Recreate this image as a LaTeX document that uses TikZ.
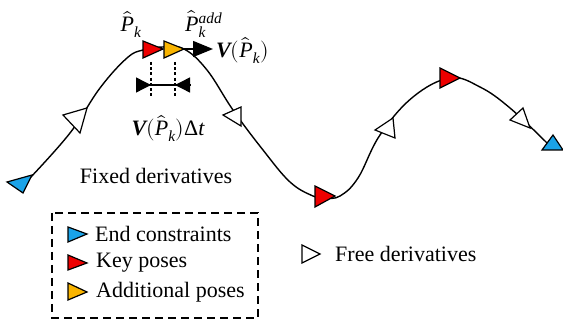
\documentclass[tikz,border=0pt]{standalone}
\usepackage{fontspec}
\setmainfont{Liberation Serif}
\usepackage{unicode-math}
\setmathfont{Latin Modern Math}
\setmathfont[range=it]{Liberation Serif Italic}
\setmathfont[range=bfit]{Liberation Serif Bold Italic}
\setmathfont[range=up]{Liberation Serif}
\usetikzlibrary{positioning,arrows.meta,calc}
\definecolor{trajblue}{HTML}{1AA3E8}
\definecolor{trajred}{HTML}{EE0000}
\definecolor{trajyellow}{HTML}{F9B400}
\tikzset{
  posetri/.style ={draw=black, line width=1.2pt, line join=miter},
  endpose/.style ={posetri, fill=trajblue},
  keypose/.style ={posetri, fill=trajred},
  addpose/.style ={posetri, fill=trajyellow},
  freepose/.style={posetri, fill=white},
  traj/.style    ={line width=1.4pt},
  lbl/.style     ={font=\fontsize{22}{25}\selectfont, inner sep=0pt},
  legtxt/.style  ={lbl, anchor=west},
  guide/.style   ={dash pattern=on 3pt off 2.2pt, line width=1.3pt},
  dimtip/.style  ={-{Triangle[length=15pt,width=15pt]}, line width=1.4pt},
  legbox/.style  ={dash pattern=on 8pt off 5pt, line width=1.2pt},
}
\newcommand{\pose}[4]{\draw[#1] (#2) -- (#3) -- (#4) -- cycle;}

\begin{document}
\begin{tikzpicture}[x=1pt,y=-1pt]
  \useasboundingbox (0,0) rectangle (563,323);

  % trajectory
  \draw[traj] plot[smooth, tension=0.65] coordinates {
    (30,178) (70,133) (100,88) (127,58) (143,50) (163,47)
    (184,49) (207,70) (233,110) (263,150) (290,182) (313,196) (325,198)
    (340,196) (358,178) (380,135) (413,97) (450,78) (480,87) (510,108)
    (547,143)};

  % poses along the trajectory
  \pose{endpose}{7,182}{32,175}{23,193}
  \pose{freepose}{63,115}{87,108}{80,133}
  \pose{keypose}{143,41}{163,49}{143,58}
  \pose{addpose}{164,41}{184,49}{164,58}
  \pose{freepose}{223,115}{241,107}{241,126}
  \pose{keypose}{315,186}{335,196}{315,207}
  \pose{freepose}{375,130}{393,118}{395,138}
  \pose{keypose}{440,68}{460,78}{440,88}
  \pose{freepose}{510,120}{523,108}{530,128}
  \pose{endpose}{542,150}{563,150}{553,135}

  % velocity arrow
  \coordinate (addtip) at (184,49);
  \coordinate (veltip) at (213,49);
  \draw[line width=1.4pt, -{Triangle[length=20pt,width=16pt]}] (addtip) -- (veltip);

  % step between the two poses
  \coordinate (dimL) at (137,85);
  \coordinate (dimR) at (190,85);
  \coordinate (stepL) at (151,85);
  \coordinate (stepR) at (175,85);
  \draw[guide] (151,62) -- (151,98);
  \draw[guide] (175,62) -- (175,98);
  \draw[line width=1.4pt] (dimL) -- (dimR);
  \draw[dimtip] (dimL) -- (stepL);
  \draw[dimtip] (dimR) -- (stepR);

  % labels
  \node[lbl] (pk) at (131,24) {$\hat{P}_k$};
  \node[lbl, anchor=west] (pkadd) at (185,24) {$\hat{P}_k^{add}$};
  \node[lbl, anchor=west] (vel) at (216,50) {$\symbfit{V}(\hat{P}_k)$};
  \node[lbl] (veldt) at (168,128) {$\symbfit{V}(\hat{P}_k)\Delta t$};
  \node[lbl] (fixed) at (156,176) {Fixed derivatives};

  % legend
  \draw[legbox] (52,213) rectangle (258,318);
  \pose{endpose}{68,227}{87,234}{68,242}
  \node[legtxt] (leg1) at (95,234) {End constraints};
  \pose{keypose}{68,255}{87,263}{68,270}
  \node[legtxt] (leg2) at (96,263) {Key poses};
  \pose{addpose}{68,283}{87,292}{68,300}
  \node[legtxt] (leg3) at (96,292) {Additional poses};
  \pose{freepose}{302,245}{320,254}{302,263}
  \node[legtxt] (leg4) at (335,254) {Free derivatives};
\end{tikzpicture}
\end{document}
